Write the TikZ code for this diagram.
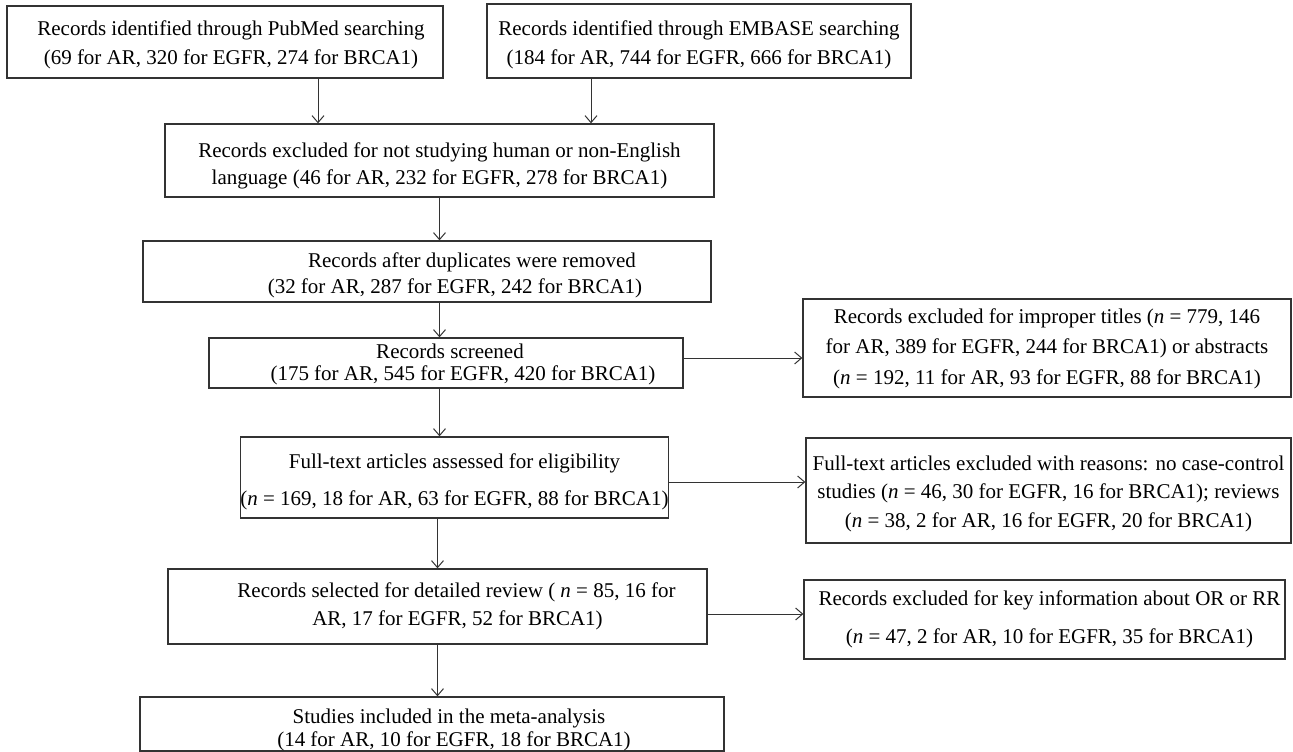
\documentclass[tikz,border=0pt]{standalone}
\usepackage{fontspec}
\setmainfont{Liberation Serif}
\usetikzlibrary{arrows.meta}
\newcommand\fsz[2]{\fontsize{#1}{#2}\selectfont}
\newcommand\nn{\textit{n}}
\newcommand\tp[1]{\rule{0pt}{#1pt}}
\newcommand\bt{\rule[-5pt]{0pt}{5pt}}
\tikzset{
  box/.style={draw=black!80, line width=1.3pt, inner sep=0pt, align=center, text=black},
  arr/.style={draw=black!80, line width=1pt, -{Straight Barb[length=7pt,width=12pt]}},
}
\begin{document}
\begin{tikzpicture}[x=1pt,y=-1pt]
\useasboundingbox (0,0) rectangle (1293,752);
\node[box, minimum width=436pt, minimum height=72pt, font=\fsz{21}{29}] (pub) at (225,42)
  {\tp{22}\hspace*{12pt}Records identified through PubMed searching\\\hspace*{12pt}(69 for AR, 320 for EGFR, 274 for BRCA1)\bt};
\node[box, minimum width=424pt, minimum height=74pt, font=\fsz{21}{29}] (emb) at (699,41)
  {\tp{24}Records identified through EMBASE searching\\(184 for AR, 744 for EGFR, 666 for BRCA1)\bt};
\node[box, minimum width=549pt, minimum height=73pt, font=\fsz{21}{27}] (excl) at (439.5,160.5)
  {\tp{25}Records excluded for not studying human or non-English\\language (46 for AR, 232 for EGFR, 278 for BRCA1)\bt};
\node[box, minimum width=568pt, minimum height=61pt, font=\fsz{21}{26}] (dup) at (427,271.5)
  {\tp{22}\hspace*{90pt}Records after duplicates were removed\\\hspace*{56pt}(32 for AR, 287 for EGFR, 242 for BRCA1)\bt};
\node[box, minimum width=474pt, minimum height=50pt, font=\fsz{21}{22}] (scr) at (446,363)
  {\tp{17}\hspace*{8pt}Records screened\\\hspace*{34pt}(175 for AR, 545 for EGFR, 420 for BRCA1)\bt};
\node[box, minimum width=488pt, minimum height=98pt, font=\fsz{21}{30.5}] (impr) at (1047,348)
  {\tp{16}Records excluded for improper titles (\nn{} = 779, 146\\for AR, 389 for EGFR, 244 for BRCA1) or abstracts\\(\nn{} = 192, 11 for AR, 93 for EGFR, 88 for BRCA1)\bt};
\node[box, minimum width=425pt, minimum height=81pt, font=\fsz{21}{37}] (full) at (454.5,477.5)
  {\tp{23}Full-text articles assessed for eligibility\\(\nn{} = 169, 18 for AR, 63 for EGFR, 88 for BRCA1)\bt};
\node[box, minimum width=485pt, minimum height=105pt, font=\fsz{21}{28.5}] (rev) at (1048.5,490.5)
  {\tp{21}Full-text articles excluded with reasons: no case-control\\studies (\nn{} = 46, 30 for EGFR, 16 for BRCA1); reviews\\(\nn{} = 38, 2 for AR, 16 for EGFR, 20 for BRCA1)\bt};
\node[box, minimum width=539pt, minimum height=75pt, font=\fsz{21}{28}] (sel) at (437.5,606.5)
  {\tp{14}\hspace*{38pt}Records selected for detailed review ( \nn{} = 85, 16 for\\\hspace*{40pt}AR, 17 for EGFR, 52 for BRCA1)\bt};
\node[box, minimum width=481pt, minimum height=79pt, font=\fsz{21}{38}] (key) at (1044.5,619.5)
  {\tp{14}\hspace*{10pt}Records excluded for key information about OR or RR\\\hspace*{10pt}(\nn{} = 47, 2 for AR, 10 for EGFR, 35 for BRCA1)\bt};
\node[box, minimum width=584pt, minimum height=54pt, font=\fsz{21}{23}] (stu) at (432,724)
  {\tp{26}\hspace*{34pt}Studies included in the meta-analysis\\\hspace*{44pt}(14 for AR, 10 for EGFR, 18 for BRCA1)\bt};
\draw[arr] ([xshift=93pt]pub.south) -- ([xshift=93pt]pub.south |- excl.north);
\draw[arr] ([xshift=-108pt]emb.south) -- ([xshift=-108pt]emb.south |- excl.north);
\draw[arr] (excl.south) -- (excl.south |- dup.north);
\draw[arr] (excl.south |- dup.south) -- (excl.south |- scr.north);
\draw[arr] (excl.south |- scr.south) -- (excl.south |- full.north);
\draw[arr] ([yshift=5pt]scr.east) -- ([yshift=5pt]scr.east -| impr.west);
\draw[arr] (sel.north |- full.south) -- (sel.north);
\draw[arr] ([yshift=-4.5pt]full.east) -- ([yshift=-4.5pt]full.east -| rev.west);
\draw[arr] (sel.south) -- (sel.south |- stu.north);
\draw[arr] ([yshift=-7.5pt]sel.east) -- ([yshift=-7.5pt]sel.east -| key.west);
\end{tikzpicture}
\end{document}
